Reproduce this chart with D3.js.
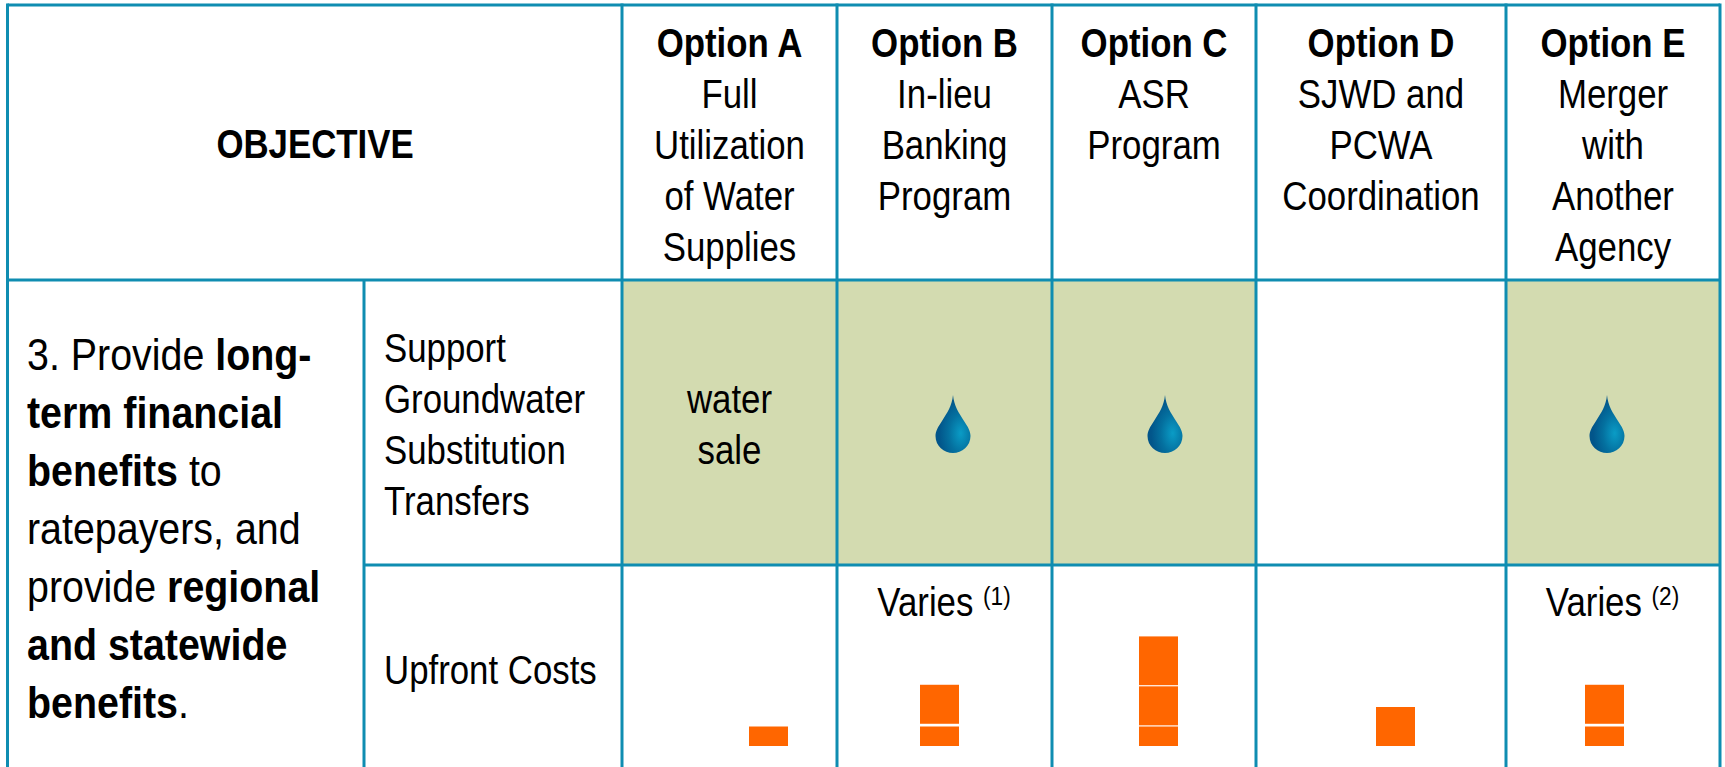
<!DOCTYPE html>
<html><head><meta charset="utf-8">
<script src="https://cdn.jsdelivr.net/npm/d3@7/dist/d3.min.js"></script>
<style>html,body{margin:0;padding:0;background:#fff}svg{display:block}text{font-family:"Liberation Sans",Arial,sans-serif;fill:#000}</style>
</head><body><svg id="c" width="1725" height="767"></svg>
<script>
const options = ["Option A","Option B","Option C","Option D","Option E"];
const optionDetails = [
  ["Full","Utilization","of Water","Supplies"],
  ["In-lieu","Banking","Program"],
  ["ASR","Program"],
  ["SJWD and","PCWA","Coordination"],
  ["Merger","with","Another","Agency"]
];
const substitutionSupport = ["water sale","drop","drop","","drop"];
const costNotes = ["","Varies|(1)","","","Varies|(2)"];
const costLower = [0.5,0.5,0.5,0,0.5];
const costMiddle = [0,1,1,1,1];
const costUpper = [0,0,1.25,0,0];
const costGap = [0,0.07,0.03,0,0.07];
const objectiveLines = [
  [["3. Provide ",0],["long-",1]],
  [["term financial",1]],
  [["benefits",1],[" to",0]],
  [["ratepayers, and",0]],
  [["provide ",0],["regional",1]],
  [["and statewide",1]],
  [["benefits",1],[".",0]]
];
const substitutionLabel = ["Support","Groundwater","Substitution","Transfers"];

const svg = d3.select("#c");
const edges = [622,837,1052,1256,1506,1720];
const cx = d3.scaleOrdinal(options, options.map((_,i)=>(edges[i]+edges[i+1])/2));
const barX = d3.scaleOrdinal(options,[768.5,939.5,1158.5,1395.5,1604.5]);
const dropX = d3.scaleOrdinal(options,[0,953,1165,0,1607]);
const y = d3.scaleLinear().domain([0,1]).range([746,707]);
const SX = 0.87, SX2 = 0.895, LINE="#0f8db1", ORANGE="#ff6600", GREEN="#d3dbb0";

const defs = svg.append("defs");
const g = defs.append("radialGradient").attr("id","drop").attr("cx",.72).attr("cy",.66).attr("r",.62);
g.append("stop").attr("offset",0).attr("stop-color","#0a9cc6");
g.append("stop").attr("offset",.55).attr("stop-color","#04709f");
g.append("stop").attr("offset",1).attr("stop-color","#02558a");

function label(parent,x,yy,str,size,weight,anchor){
  return parent.append("text")
    .attr("transform",`translate(${x},${yy}) scale(${SX},1)`)
    .attr("text-anchor",anchor||"middle").attr("font-size",size).attr("font-weight",weight||"normal").text(str);
}

// green cells
options.forEach((o,i)=>{
  if(substitutionSupport[i]) svg.append("rect").attr("x",edges[i]).attr("y",280).attr("width",edges[i+1]-edges[i]).attr("height",285).attr("fill",GREEN);
});

// grid
const grid = svg.append("g").attr("stroke",LINE).attr("stroke-width",3).attr("fill","none");
[[7.5,5,1720,5],[7.5,280,1720,280],[364,565,1720,565],[7.5,3.5,7.5,767],[364,280,364,767]]
  .concat(edges.map(e=>[e,3.5,e,767]))
  .forEach(l=>grid.append("line").attr("x1",l[0]).attr("y1",l[1]).attr("x2",l[2]).attr("y2",l[3]));

// header
label(svg,315,158,"OBJECTIVE",40,"bold");
options.forEach((o,i)=>{
  label(svg,cx(o),57,o,40,"bold");
  optionDetails[i].forEach((t,j)=>label(svg,cx(o),108+j*50.9,t,40));
});

// objective
objectiveLines.forEach((runs,j)=>{
  const t = svg.append("text").attr("transform",`translate(27,${370+j*58}) scale(${SX2},1)`).attr("font-size",44);
  runs.forEach(r=>t.append("tspan").attr("font-weight",r[1]?"bold":"normal").attr("xml:space","preserve").style("white-space","pre").text(r[0]));
});

// row labels
substitutionLabel.forEach((t,j)=>label(svg,384,362+j*51.1,t,40,"normal","start"));
label(svg,384,684,"Upfront Costs",40,"normal","start");

// row 1 contents
const dropPath = "M0,-29 C1,-18 6,-11 11,-3 C15,3 17.5,7 17.5,12 C17.5,22 9,29 0,29 C-9,29 -17.5,22 -17.5,12 C-17.5,7 -15,3 -11,-3 C-6,-11 -1,-18 0,-29Z";
options.forEach((o,i)=>{
  const s = substitutionSupport[i];
  if(s==="drop") svg.append("path").attr("d",dropPath).attr("transform",`translate(${dropX(o)},424)`).attr("fill","url(#drop)");
  else if(s){ s.split(" ").forEach((w,j)=>label(svg,cx(o),413+j*51,w,40)); }
});

// notes
options.forEach((o,i)=>{
  if(!costNotes[i]) return;
  const [a,b]=costNotes[i].split("|");
  const t = svg.append("text").attr("transform",`translate(${cx(o)-(i==1?0.5:0.5)},616) scale(${SX},1)`).attr("text-anchor","middle").attr("font-size",40);
  t.append("tspan").text(a+" ");
  t.append("tspan").attr("font-size",26).attr("dy",-11).text(b);
});

// cost bars
options.forEach((o,i)=>{
  let base=0;
  [costLower[i],costMiddle[i],costUpper[i]].forEach(v=>{
    if(!v) return;
    svg.append("rect").attr("x",barX(o)-19.5).attr("width",39)
      .attr("y",y(base+v)).attr("height",y(base)-y(base+v)).attr("fill",ORANGE);
    base+=v+costGap[i];
  });
});
</script></body></html>
